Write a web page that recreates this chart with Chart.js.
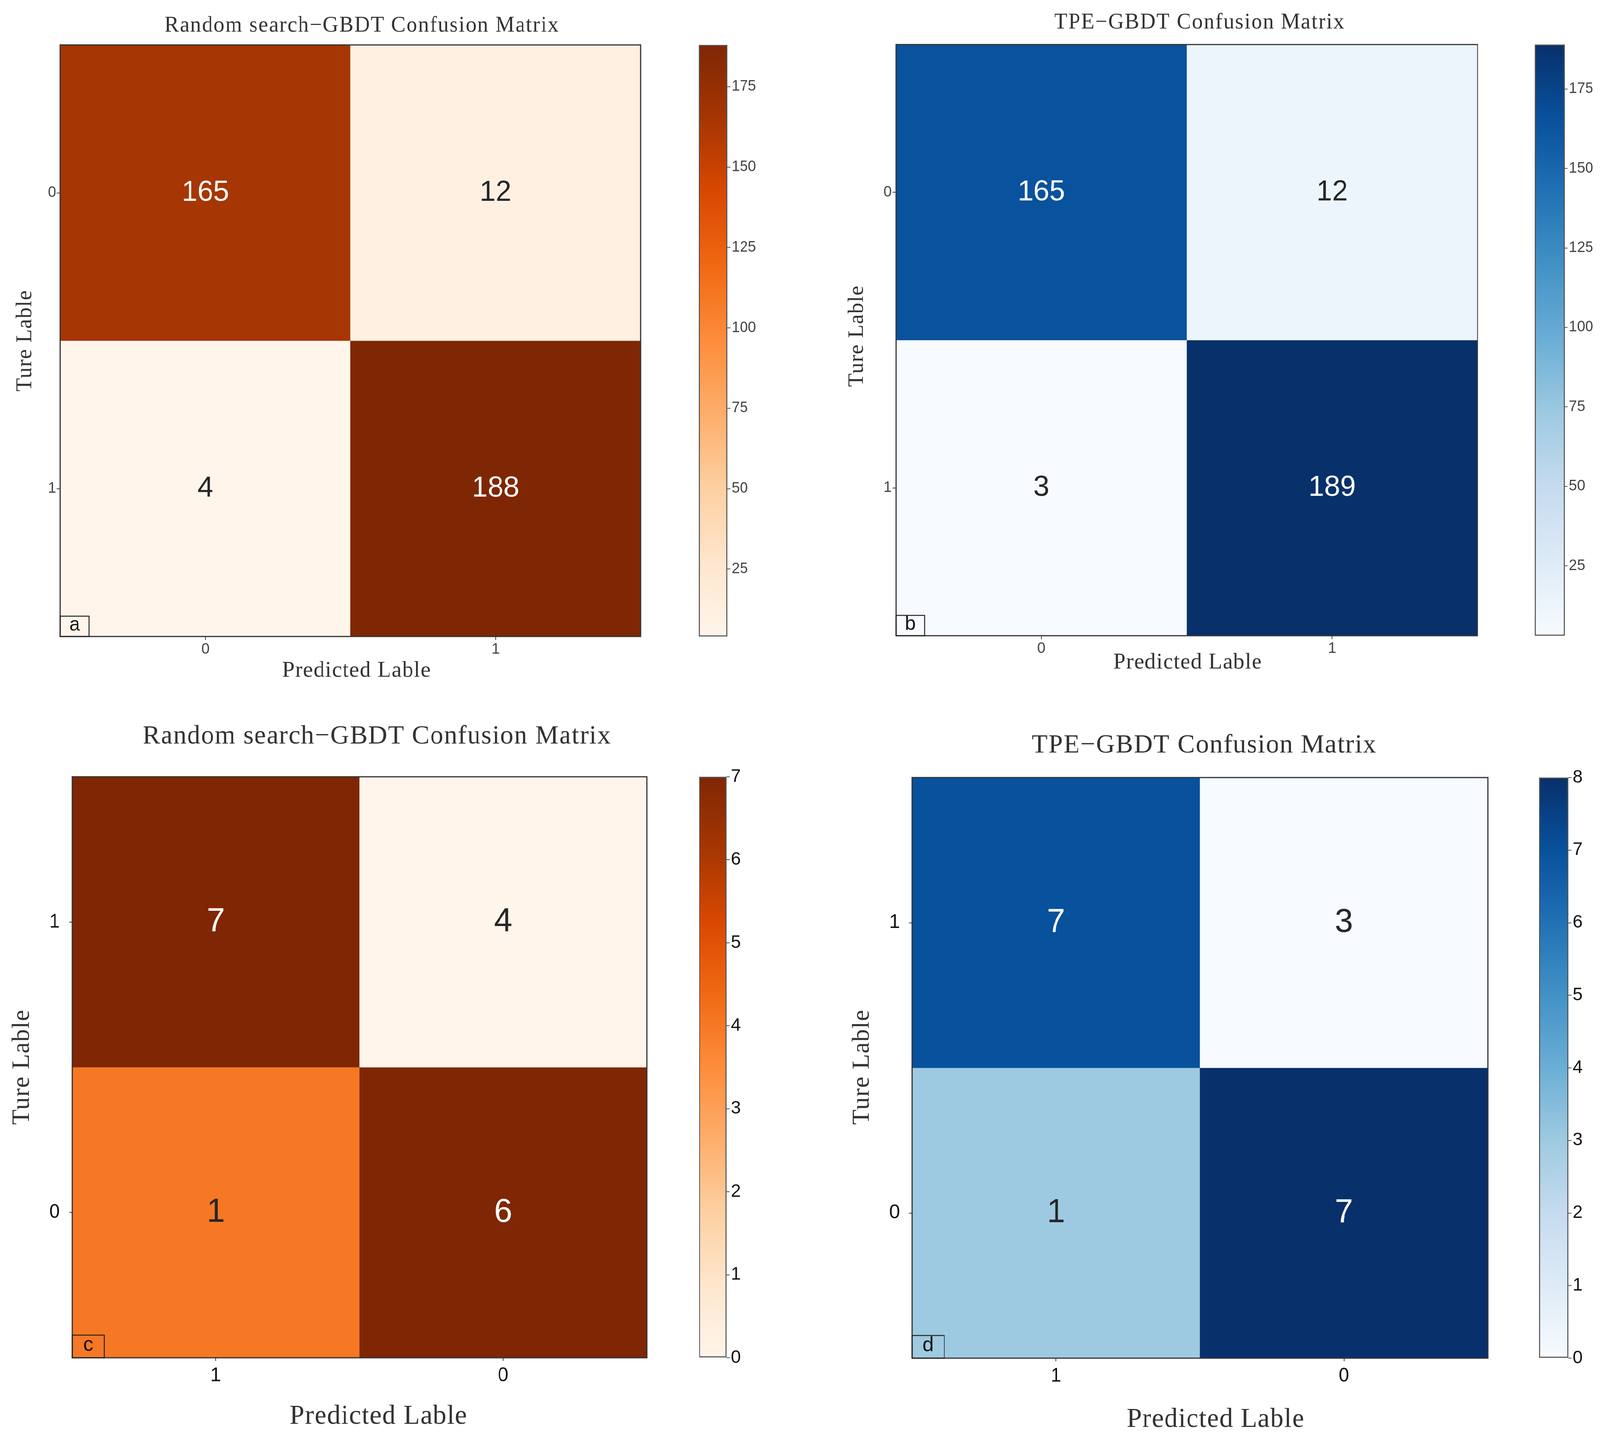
<!DOCTYPE html>
<html>
<head>
<meta charset="utf-8">
<title>GBDT confusion matrices</title>
<script src="https://cdn.jsdelivr.net/npm/chart.js@4"></script>
<style>
  html, body { margin: 0; padding: 0; background: #fff; overflow: hidden; }
  #page { width: 4168px; height: 3688px; position: absolute; left: 0; top: 0; transform-origin: 0 0; }
  canvas { position: absolute; }
</style>
</head>
<body>
<div id="page"></div>
<script>
// values, cells listed row by row (top row first)
const predA = ['0', '1'];
const trueA = ['0', '1'];
const countsA = [165, 12, 4, 188];
const rangeA = [4, 188];
const barTicksA = [25, 50, 75, 100, 125, 150, 175];

const predB = ['0', '1'];
const trueB = ['0', '1'];
const countsB = [165, 12, 3, 189];
const rangeB = [3, 189];
const barTicksB = [25, 50, 75, 100, 125, 150, 175];

const predC = ['1', '0'];
const trueC = ['1', '0'];
const countsC = [7, 4, 1, 6];
// in c and d the cell shades do not follow the printed numbers, so the shade is read against the colour bar
const shadeC = [7, 0, 4, 7];
const rangeC = [0, 7];
const barTicksC = [0, 1, 2, 3, 4, 5, 6, 7];

const predD = ['1', '0'];
const trueD = ['1', '0'];
const countsD = [7, 3, 1, 7];
const shadeD = [7, 0, 3, 8];
const rangeD = [0, 8];
const barTicksD = [0, 1, 2, 3, 4, 5, 6, 7, 8];

// colour maps (matplotlib Oranges / Blues)
const ORANGES = ['#fff5eb', '#fee6ce', '#fdd0a2', '#fdae6b', '#fd8d3c', '#f16913', '#d94801', '#a63603', '#7f2704'];
const BLUES = ['#f7fbff', '#deebf7', '#c6dbef', '#9ecae1', '#6baed6', '#4292c6', '#2171b5', '#08519c', '#08306b'];

const SANS = '"Liberation Sans", Arial, sans-serif';
const SERIF = '"Liberation Serif", "Times New Roman", serif';
Chart.defaults.font.family = SANS;

// keep the whole 4168x3688 sheet inside whatever the viewport really is
const page = document.getElementById('page');
const fitX = (window.innerWidth || 4168) / 4168;
const fitY = (window.innerHeight || 3688) / 3688;
if (Math.abs(fitX - 1) > 0.001 || Math.abs(fitY - 1) > 0.001) {
    page.style.transform = 'scale(' + fitX + ',' + fitY + ')';
}

function hexRgb(h) {
    return [1, 3, 5].map(i => parseInt(h.slice(i, i + 2), 16));
}

function cmap(stops, t) {
    t = Math.max(0, Math.min(1, t));
    const p = t * (stops.length - 1);
    const i = Math.min(Math.floor(p), stops.length - 2);
    const f = p - i;
    const a = hexRgb(stops[i]), b = hexRgb(stops[i + 1]);
    return 'rgb(' + a.map((v, k) => Math.round(v + (b[k] - v) * f)).join(',') + ')';
}

function makeCanvas(box) {
    const cv = document.createElement('canvas');
    cv.width = box.w;
    cv.height = box.h;
    cv.style.left = box.x + 'px';
    cv.style.top = box.y + 'px';
    cv.style.width = box.w + 'px';
    cv.style.height = box.h + 'px';
    page.appendChild(cv);
    return cv;
}

// numbers in the cells, frame, titles and the panel letter
function decor(p) {
    const frac = v => (v - p.range[0]) / (p.range[1] - p.range[0]);
    return {
        id: 'decor',
        afterDatasetsDraw(chart) {
            const ctx = chart.ctx;
            const n = p.cols.length;
            ctx.save();
            ctx.font = p.numberSize + 'px ' + SANS;
            ctx.textAlign = 'center';
            ctx.textBaseline = 'middle';
            chart.data.datasets.forEach((ds, i) => {
                chart.getDatasetMeta(i).data.forEach((bar, j) => {
                    const k = i * n + j;
                    ctx.fillStyle = frac(p.shade[k]) > 0.6 ? '#ffffff' : '#262626';
                    ctx.fillText(String(p.counts[k]), bar.x, (bar.y + bar.base) / 2);
                });
            });
            ctx.restore();
        },
        afterDraw(chart) {
            const ctx = chart.ctx;
            const a = chart.chartArea;
            const ox = p.box.x, oy = p.box.y;
            ctx.save();
            ctx.strokeStyle = '#333';
            ctx.lineWidth = 3;
            ctx.strokeRect(a.left, a.top, a.right - a.left, a.bottom - a.top);

            ctx.fillStyle = '#333';
            ctx.textAlign = 'center';
            ctx.textBaseline = 'middle';
            ctx.letterSpacing = p.titleSpacing + 'px';
            ctx.font = p.titleSize + 'px ' + SERIF;
            ctx.fillText(p.title, p.titleAt[0] - ox, p.titleAt[1] - oy);

            ctx.letterSpacing = p.axisSpacing + 'px';
            ctx.font = p.axisSize + 'px ' + SERIF;
            ctx.fillText('Predicted Lable', p.xTitleAt[0] - ox, p.xTitleAt[1] - oy);

            ctx.save();
            ctx.translate(p.yTitleAt[0] - ox, p.yTitleAt[1] - oy);
            ctx.rotate(-Math.PI / 2);
            ctx.font = p.yAxisSize + 'px ' + SERIF;
            ctx.fillText('Ture Lable', 0, 0);
            ctx.restore();

            // panel letter in its small box
            ctx.letterSpacing = '0px';
            const lb = p.letterBox;
            ctx.strokeStyle = '#222';
            ctx.lineWidth = 2.5;
            ctx.strokeRect(a.left, a.bottom - lb[1], lb[0], lb[1]);
            ctx.fillStyle = '#111';
            ctx.font = lb[2] + 'px ' + SANS;
            ctx.fillText(p.letter, a.left + lb[0] / 2, a.bottom - lb[1] / 2 - 3);
            ctx.restore();
        }
    };
}

function heatmap(p) {
    const box = p.box, plot = p.plot;
    const n = p.cols.length;
    const frac = v => (v - p.range[0]) / (p.range[1] - p.range[0]);
    const datasets = p.rows.map((r, i) => ({
        label: r,
        data: p.cols.map(() => [i, i + 1]),
        backgroundColor: p.cols.map((c, j) => cmap(p.stops, frac(p.shade[i * n + j]))),
        borderWidth: 0,
        barPercentage: 1,
        categoryPercentage: 1,
        grouped: false
    }));
    const tickFont = { size: p.tickSize, family: SANS };
    const tickGrid = { drawOnChartArea: false, tickLength: p.tickLen, color: '#444', lineWidth: 2 };

    new Chart(makeCanvas(box), {
        type: 'bar',
        data: { labels: p.cols, datasets: datasets },
        options: {
            responsive: false,
            devicePixelRatio: 1,
            animation: false,
            layout: {
                padding: {
                    left: plot.x - box.x - p.yAxisW,
                    top: plot.y - box.y,
                    right: box.x + box.w - plot.x - plot.w,
                    bottom: box.y + box.h - plot.y - plot.h - p.xAxisH
                }
            },
            plugins: { legend: { display: false }, tooltip: { enabled: false } },
            scales: {
                x: {
                    grid: Object.assign({ offset: false }, tickGrid),
                    border: { display: false },
                    ticks: { font: tickFont, color: p.tickColor, padding: p.xPad, maxRotation: 0 },
                    afterFit: s => { s.height = p.xAxisH; }
                },
                y: {
                    min: 0,
                    max: p.rows.length,
                    reverse: true,
                    afterBuildTicks: s => { s.ticks = p.rows.map((_, i) => ({ value: i + 0.5 })); },
                    grid: tickGrid,
                    border: { display: false },
                    ticks: { font: tickFont, color: p.tickColor, padding: p.yPad, autoSkip: false, callback: (v, i) => p.rows[i] },
                    afterFit: s => { s.width = p.yAxisW; }
                }
            }
        },
        plugins: [decor(p)]
    });
}

function barGradient(chart, p) {
    const y = chart.scales.y;
    if (!y || !chart.chartArea) return p.stops[0];
    const g = chart.ctx.createLinearGradient(0, y.getPixelForValue(p.range[0]), 0, y.getPixelForValue(p.range[1]));
    p.stops.forEach((c, k) => g.addColorStop(k / (p.stops.length - 1), c));
    return g;
}

function colourBar(p) {
    const cb = p.bar;
    const box = { x: cb.x - 10, y: cb.y - 40, w: cb.w + 160, h: cb.h + 80 };
    new Chart(makeCanvas(box), {
        type: 'bar',
        data: {
            labels: [''],
            datasets: [{
                data: [p.range],
                backgroundColor: c => barGradient(c.chart, p),
                borderColor: '#555',
                borderWidth: 3,
                borderSkipped: false,
                barPercentage: 1,
                categoryPercentage: 1
            }]
        },
        options: {
            responsive: false,
            devicePixelRatio: 1,
            animation: false,
            layout: { padding: { left: 10, top: 40, bottom: 40, right: 10 } },
            plugins: { legend: { display: false }, tooltip: { enabled: false } },
            scales: {
                x: { display: false },
                y: {
                    position: 'right',
                    min: p.range[0],
                    max: p.range[1],
                    afterBuildTicks: s => { s.ticks = p.barTicks.map(v => ({ value: v })); },
                    afterFit: s => { s.width = 140; },
                    grid: { drawOnChartArea: false, tickLength: 8, color: '#555', lineWidth: 2 },
                    border: { display: false },
                    ticks: { font: { size: p.barTickSize }, color: p.barTickColor, padding: 3, autoSkip: false }
                }
            }
        }
    });
}

const small = {
    tickSize: 38, tickColor: '#444', tickLen: 9, xPad: 2, yPad: 2, yAxisW: 60, xAxisH: 80,
    numberSize: 74, titleSize: 56, titleSpacing: 2.4, axisSize: 58, axisSpacing: 1.5, yAxisSize: 56,
    letterBox: [75, 52, 50], barTickSize: 38, barTickColor: '#444'
};
const large = {
    tickSize: 50, tickColor: '#111', tickLen: 8, xPad: 8, yPad: 24, yAxisW: 110, xAxisH: 100,
    numberSize: 86, titleSize: 68, titleSpacing: 2.1, axisSize: 70, axisSpacing: 1.5, yAxisSize: 64,
    letterBox: [84, 58, 52], barTickSize: 46, barTickColor: '#111'
};

const panels = [
    Object.assign({}, small, {
        letter: 'a', title: 'Random search\u2212GBDT Confusion Matrix',
        cols: predA, rows: trueA, counts: countsA, shade: countsA, range: rangeA, barTicks: barTicksA, stops: ORANGES,
        box: { x: 0, y: 0, w: 1760, h: 1840 }, plot: { x: 157, y: 115, w: 1512, h: 1514 },
        bar: { x: 1820, y: 115, w: 75, h: 1514 },
        titleAt: [943, 66], xTitleAt: [929, 1717], yTitleAt: [66, 872]
    }),
    Object.assign({}, small, {
        letter: 'b', title: 'TPE\u2212GBDT Confusion Matrix',
        cols: predB, rows: trueB, counts: countsB, shade: countsB, range: rangeB, barTicks: barTicksB, stops: BLUES,
        box: { x: 2090, y: 0, w: 1860, h: 1840 }, plot: { x: 2334, y: 114, w: 1515, h: 1513 },
        bar: { x: 3998, y: 114, w: 78, h: 1513 },
        titleAt: [3125, 58], xTitleAt: [3094, 1696], yTitleAt: [2233, 860]
    }),
    Object.assign({}, large, {
        letter: 'c', title: 'Random search\u2212GBDT Confusion Matrix',
        cols: predC, rows: trueC, counts: countsC, shade: shadeC, range: rangeC, barTicks: barTicksC, stops: ORANGES,
        box: { x: 0, y: 1840, w: 1760, h: 1848 }, plot: { x: 188, y: 1988, w: 1497, h: 1487 },
        bar: { x: 1821, y: 1988, w: 72, h: 1487 },
        titleAt: [982, 1885], xTitleAt: [986, 3626], yTitleAt: [58, 2731]
    }),
    Object.assign({}, large, {
        letter: 'd', title: 'TPE\u2212GBDT Confusion Matrix',
        cols: predD, rows: trueD, counts: countsD, shade: shadeD, range: rangeD, barTicks: barTicksD, stops: BLUES,
        box: { x: 2090, y: 1840, w: 1880, h: 1848 }, plot: { x: 2376, y: 1990, w: 1500, h: 1486 },
        bar: { x: 4009, y: 1990, w: 77, h: 1486 },
        titleAt: [3137, 1908], xTitleAt: [3167, 3634], yTitleAt: [2246, 2731]
    })
];

panels.forEach(p => {
    heatmap(p);
    colourBar(p);
});
</script>
</body>
</html>
